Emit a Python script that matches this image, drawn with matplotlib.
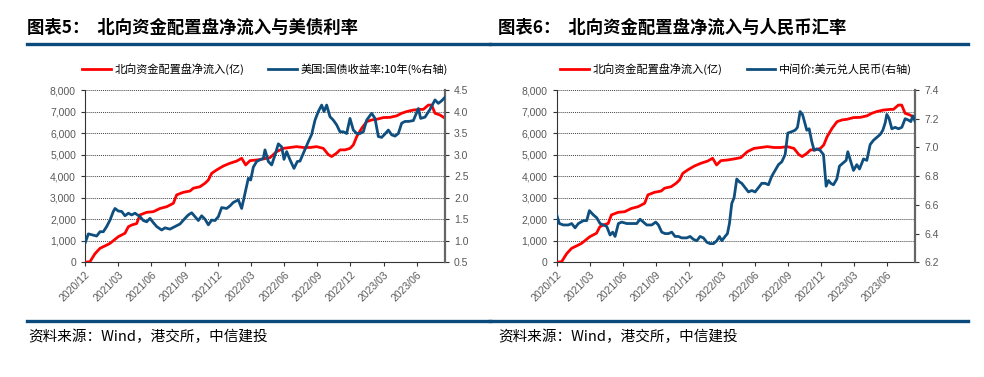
import matplotlib
matplotlib.use("Agg")
import matplotlib.pyplot as plt
from matplotlib.lines import Line2D
import numpy as np

plt.rcParams['font.family'] = ['Liberation Sans', 'Noto Sans CJK SC', 'DejaVu Sans']

# ---- data (x in months since 2020/12) ----
tick_labels = ["2020/12", "2021/03", "2021/06", "2021/09", "2021/12", "2022/03",
               "2022/06", "2022/09", "2022/12", "2023/03", "2023/06"]
tick_months = [0, 3, 6, 9, 12, 15, 18, 21, 24, 27, 30]
x_end = 32.56

# Northbound allocation net inflow (亿), zoom pixel x (left chart) and values
flow_zx = [255, 270, 285, 300, 320, 330, 355, 375, 385, 395, 410, 420, 440, 460, 480, 500,
           520, 530, 550, 570, 580, 600, 615, 625, 635, 650, 670, 690, 710, 725, 737, 750,
           770, 790, 810, 830, 850, 870, 890, 910, 930, 950, 970, 985, 995, 1010, 1020,
           1035, 1050, 1060, 1070, 1085, 1100, 1115, 1130, 1150, 1170, 1190, 1205, 1220,
           1240, 1260, 1270, 1285, 1295, 1305, 1320, 1335]
flow_val = [0, 30, 400, 650, 800, 880, 1190, 1350, 1650, 1730, 1800, 2200, 2320, 2350, 2500, 2580,
            2740, 3130, 3250, 3310, 3440, 3510, 3670, 3820, 4130, 4290, 4470, 4600, 4700, 4830, 4520, 4720,
            4750, 4800, 4860, 5140, 5290, 5330, 5370, 5330, 5330, 5370, 5290, 5000, 4910, 5070, 5220,
            5220, 5290, 5450, 5830, 6220, 6530, 6610, 6640, 6720, 6730, 6800, 6920, 7000,
            7070, 7100, 7100, 7300, 7300, 6920, 6840, 6690]

# US 10Y treasury yield (%)
ust_zx = [255, 265, 280, 290, 300, 310, 320, 330, 340, 345, 355, 365, 375, 385, 395, 405, 420,
          430, 440, 450, 460, 470, 485, 495, 510, 525, 540, 555, 565, 575, 585, 595, 605, 615,
          625, 635, 645, 655, 665, 680, 690, 700, 715, 725, 735, 745, 752, 760, 770, 780, 790,
          795, 805, 815, 825, 835, 845, 852, 860, 870, 882, 892, 900, 910, 925, 935, 945, 955,
          965, 972, 980, 990, 1000, 1010, 1020, 1030, 1040, 1050, 1060, 1070, 1080, 1090, 1100,
          1115, 1125, 1135, 1145, 1155, 1165, 1175, 1185, 1195, 1205, 1215, 1225, 1240, 1255,
          1262, 1275, 1290, 1305, 1315, 1325, 1335]
ust_val = [0.94, 1.16, 1.13, 1.11, 1.21, 1.21, 1.33, 1.48, 1.68, 1.75, 1.69, 1.68, 1.58, 1.64, 1.60, 1.64, 1.56,
           1.47, 1.44, 1.52, 1.42, 1.33, 1.25, 1.30, 1.27, 1.33, 1.39, 1.52, 1.60, 1.65, 1.56, 1.47, 1.58, 1.50,
           1.37, 1.48, 1.47, 1.56, 1.77, 1.75, 1.81, 1.89, 1.95, 1.75, 2.10, 2.45, 2.41, 2.71, 2.84, 2.88, 2.91,
           3.11, 2.84, 2.76, 2.99, 3.25, 3.18, 2.89, 3.07, 2.88, 2.68, 2.84, 2.85, 3.03, 3.30, 3.47, 3.80, 4.00,
           4.15, 4.00, 4.15, 3.88, 3.80, 3.69, 3.53, 3.53, 3.49, 3.84, 3.57, 3.49, 3.49, 3.53, 3.80,
           3.96, 3.84, 3.42, 3.40, 3.48, 3.57, 3.46, 3.43, 3.49, 3.73, 3.77, 3.77, 3.79, 4.07,
           3.84, 3.87, 4.05, 4.27, 4.19, 4.25, 4.33]

# USD/CNY central parity, zoom pixel x (right chart)
cny_zx = [200, 208, 220, 235, 245, 255, 265, 280, 290, 298, 310, 320, 330, 340, 350, 360, 368, 375,
          385, 395, 410, 425, 440, 450, 460, 470, 485, 497, 505, 515, 525, 535, 545, 555, 565, 575,
          590, 600, 610, 620, 630, 640, 650, 660, 670, 680, 688, 695, 705, 712, 718, 725, 732, 740,
          748, 755, 765, 775, 785, 795, 805, 815, 825, 835, 845, 855, 865, 875, 885, 893, 905, 915,
          922, 930, 937, 943, 950, 957, 965, 972, 980, 990, 1000, 1008, 1015, 1022, 1030, 1040,
          1048, 1058, 1068, 1073, 1082, 1090, 1100, 1108, 1115, 1120, 1130, 1140, 1150, 1160, 1170,
          1178, 1185, 1190, 1197, 1205, 1215, 1225, 1235, 1245, 1255, 1262, 1268, 1275]
cny_val = [6.53, 6.47, 6.46, 6.46, 6.47, 6.44, 6.47, 6.49, 6.49, 6.56, 6.53, 6.51, 6.47, 6.46, 6.45, 6.39, 6.41, 6.38,
           6.47, 6.48, 6.47, 6.47, 6.47, 6.50, 6.48, 6.46, 6.46, 6.48, 6.46, 6.41, 6.40, 6.40, 6.41, 6.38, 6.38, 6.37,
           6.37, 6.38, 6.36, 6.35, 6.38, 6.37, 6.34, 6.33, 6.33, 6.35, 6.38, 6.35, 6.38, 6.40, 6.47, 6.61, 6.65, 6.78,
           6.76, 6.75, 6.72, 6.69, 6.70, 6.69, 6.72, 6.75, 6.75, 6.74, 6.80, 6.84, 6.88, 6.90, 6.95, 7.10, 7.11, 7.12,
           7.14, 7.25, 7.23, 7.18, 7.12, 7.13, 7.04, 6.98, 6.99, 6.98, 6.95, 6.73, 6.77, 6.75, 6.74, 6.78,
           6.87, 6.89, 6.91, 6.97, 6.90, 6.84, 6.88, 6.85, 6.89, 6.92, 6.91, 7.02, 7.05, 7.07, 7.09,
           7.12, 7.17, 7.23, 7.20, 7.13, 7.14, 7.13, 7.14, 7.20, 7.19, 7.18, 7.22, 7.18]

flow_x = [(z - 255) / 33.17 for z in flow_zx]
ust_x = [(z - 255) / 33.17 for z in ust_zx]
cny_x = [(z - 200) / 33.0 for z in cny_zx]

RED = '#FF0000'
BLUE = '#0F4F7F'
NAVY = '#0B4A7D'
TICKC = '#595959'
CJK = ['Noto Sans CJK SC', 'DejaVu Sans']

fig = plt.figure(figsize=(9.84, 3.77), dpi=100)
W, H = 984, 377


def fx(px):
    return px / W


def fy(py):
    return 1 - py / H


def make_panel(x0, x1, rlim, rticks, rfmt, rseries_x, rseries_y, legend_labels):
    ax = fig.add_axes([fx(x0), fy(262.3), fx(x1 - x0), fy(90) - fy(262.3)])
    ax.plot(flow_x, flow_val, color=RED, lw=2.0, zorder=3)
    ax.set_xlim(0, x_end)
    ax.set_ylim(0, 8000)
    ax.set_yticks(np.arange(0, 8001, 1000))
    ax.set_yticklabels([f"{int(v):,}" for v in np.arange(0, 8001, 1000)])
    ax.set_xticks(tick_months)
    ax.set_xticklabels(tick_labels, rotation=45, ha='right', rotation_mode='anchor')
    ax.grid(axis='y', linestyle=(0, (1, 1)), color='#444444', linewidth=0.7)
    for s in ['top', 'right']:
        ax.spines[s].set_visible(False)
    ax.spines['left'].set_color('#333333')
    ax.spines['bottom'].set_color('#333333')
    ax.tick_params(axis='both', colors='#333333', labelcolor=TICKC, labelsize=7.5, length=3, width=0.8)
    ax.tick_params(axis='x', pad=2)

    ax2 = ax.twinx()
    ax2.plot(rseries_x, rseries_y, color=BLUE, lw=2.0, zorder=4)
    ax2.set_ylim(*rlim)
    ax2.set_yticks(rticks)
    ax2.set_yticklabels([rfmt.format(v) for v in rticks])
    for s in ['top', 'left', 'bottom']:
        ax2.spines[s].set_visible(False)
    ax2.spines['right'].set_color('#666666')
    ax2.spines['right'].set_linewidth(1.6)
    ax2.tick_params(axis='y', colors='#333333', labelcolor=TICKC, labelsize=7.5, length=3, width=0.8)

    handles = [Line2D([], [], color=RED, lw=2.0), Line2D([], [], color=BLUE, lw=2.0)]
    ax.legend(handles, legend_labels, loc='center', bbox_to_anchor=(0.5, 1.12), ncol=2,
              frameon=False, prop={'family': CJK, 'size': 8}, handlelength=2.6,
              handletextpad=0.3, columnspacing=2.2)
    return ax, ax2


make_panel(85, 445, (0.5, 4.5), [0.5 + 0.5 * i for i in range(9)], "{:.1f}",
           ust_x, ust_val, ["北向资金配置盘净流入(亿)", "美国:国债收益率:10年(%右轴)"])
make_panel(556.7, 915, (6.2, 7.4), [6.2, 6.4, 6.6, 6.8, 7.0, 7.2, 7.4], "{:.1f}",
           cny_x, cny_val, ["北向资金配置盘净流入(亿)", "中间价:美元兑人民币(右轴)"])

# titles
fig.text(fx(27), fy(28), "图表5：  北向资金配置盘净流入与美债利率", family=CJK, fontsize=12.5,
         fontweight='bold', va='center', ha='left', color='black')
fig.text(fx(498), fy(28), "图表6：  北向资金配置盘净流入与人民币汇率", family=CJK, fontsize=12.5,
         fontweight='bold', va='center', ha='left', color='black')

# rules
for y in (44, 320.7):
    fig.add_artist(Line2D([fx(27), fx(490)], [fy(y), fy(y)], color=NAVY, lw=2.4))
    fig.add_artist(Line2D([fx(490), fx(968)], [fy(y), fy(y)], color=NAVY, lw=2.4))

# sources
fig.text(fx(28), fy(337), "资料来源：Wind，港交所，中信建投", family=CJK, fontsize=10.5,
         style='italic', va='center', ha='left', color='black')
fig.text(fx(498), fy(337), "资料来源：Wind，港交所，中信建投", family=CJK, fontsize=10.5,
         style='italic', va='center', ha='left', color='black')

fig.savefig("out.png", dpi=100)
